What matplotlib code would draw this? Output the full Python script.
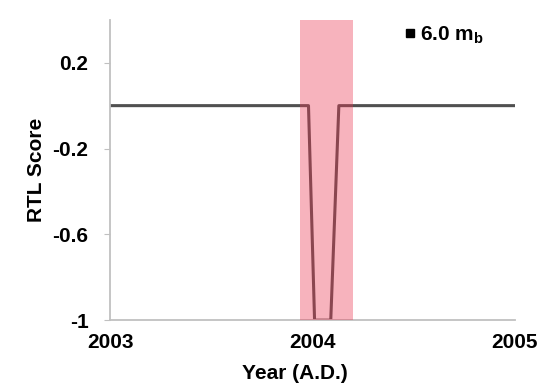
import matplotlib
matplotlib.use("Agg")
from matplotlib import pyplot as plt
from matplotlib.lines import Line2D

plt.rcParams["font.family"] = ["Liberation Sans", "DejaVu Sans"]
plt.rcParams["font.weight"] = "bold"
plt.rcParams["mathtext.fontset"] = "custom"
plt.rcParams["mathtext.rm"] = "Liberation Sans:bold"
plt.rcParams["mathtext.bf"] = "Liberation Sans:bold"

# RTL score time series around the event
years = [2003.0, 2003.98, 2004.01, 2004.09, 2004.13, 2005.0]
rtl_score = [0.0, 0.0, -1.0, -1.0, 0.0, 0.0]

# anomaly window
window_start = 2003.94
window_end = 2004.2

x_ticks = [2003, 2004, 2005]
y_ticks = [0.2, -0.2, -0.6, -1]
y_tick_labels = ["0.2", "-0.2", "-0.6", "-1"]
legend_label = r"6.0 m$_{\mathrm{b}}$"

fig = plt.figure(figsize=(5.37, 3.89), dpi=100)
ax = fig.add_axes([0.205, 0.177, 0.754, 0.772])

ax.plot(years, rtl_score, color="#505050", lw=2.2, zorder=2)
# translucent band drawn over the line so the dip shows through reddish
ax.axvspan(window_start, window_end, color="#ea3752", alpha=0.38, lw=0, zorder=3)

ax.set_xlim(2003, 2005)
ax.set_ylim(-1, 0.4)
ax.set_xticks(x_ticks)
ax.set_yticks(y_ticks)
ax.set_yticklabels(y_tick_labels)

for side in ("top", "right"):
    ax.spines[side].set_visible(False)
for side in ("left", "bottom"):
    ax.spines[side].set_color("#c0c0c0")
    ax.spines[side].set_linewidth(1.3)

ax.tick_params(axis="y", length=4.5, color="#c0c0c0", labelsize=15, pad=11)
ax.tick_params(axis="x", length=0, labelsize=15, pad=9)

ax.set_xlabel("Year (A.D.)", fontsize=15, fontweight="bold", labelpad=6)
ax.xaxis.set_label_coords(0.457, -0.145)
ax.set_ylabel("RTL Score", fontsize=15, fontweight="bold", labelpad=5)

handle = Line2D([], [], ls="none", marker="s", color="black", markersize=5.5)
ax.legend([handle], [legend_label], loc="upper left", frameon=False,
          fontsize=15, handletextpad=0.2, handlelength=0.6,
          borderpad=0, borderaxespad=0, bbox_to_anchor=(0.725, 0.985))

fig.savefig("out.png", dpi=100)
